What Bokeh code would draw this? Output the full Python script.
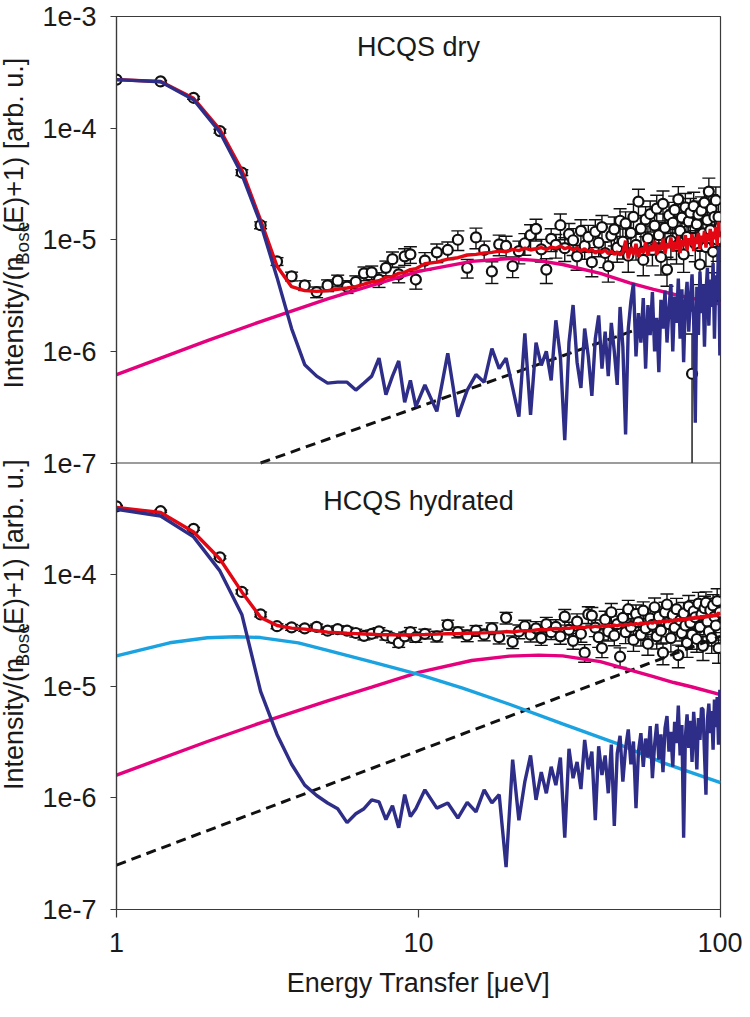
import numpy as np
from bokeh.plotting import figure
from bokeh.layouts import row
from bokeh.models import Range1d, FixedTicker, Span, LogScale
from bokeh.embed import file_html
from bokeh.resources import INLINE
from bokeh.core.properties import value

# ---------------- data (intensities in units of 1e-6) ----------------
UNIT = 1e-6

E_low = [1.0, 1.4, 1.8, 2.2, 2.6, 3.0, 3.4, 3.8, 4.2, 4.6, 5.0, 5.4, 5.8, 6.2, 6.6, 7.0,
         7.4, 7.8, 8.2, 8.6, 9.0, 9.4, 9.8]
E_high = [10.5, 11.5, 12.5, 13.5, 14.5, 15.5, 16.5, 17.5, 18.5, 19.5,
          20.5, 21.5, 22.5, 23.5, 24.5, 25.5, 26.5, 27.5, 28.5, 29.5,
          30.5, 31.5, 32.5, 33.5, 34.5, 35.5, 36.5, 37.5, 38.5, 39.5,
          40.5, 41.5, 42.5, 43.5, 44.5, 45.5, 46.5, 47.5, 48.5, 49.5,
          50.5, 51.5, 52.5, 53.5, 54.5, 55.5, 56.5, 57.5, 58.5, 59.5,
          60.5, 61.5, 62.5, 63.5, 64.5, 65.5, 66.5, 67.5, 68.5, 69.5,
          70.5, 71.5, 72.5, 73.5, 74.5, 75.5, 76.5, 77.5, 78.5, 79.5,
          80.5, 81.5, 82.5, 83.5, 84.5, 85.5, 86.5, 87.5, 88.5, 89.5,
          90.5, 91.5, 92.5, 93.5, 94.5, 95.5, 96.5, 97.5, 98.5, 99.5]

# ---- HCQS dry (top panel)
dry_data = [272, 262, 187, 94, 40, 13.5, 6.4, 4.7, 3.9, 3.4, 3.9, 4.3, 3.8, 4.2, 5.0, 5.1,
            4.4, 5.6, 6.7, 4.9, 7.1, 7.4, 4.4,
            6.5, 7.7, 8.1, 10.0, 5.6, 10.5, 8.1, 5.2, 9.1, 8.8,
            5.8, 7.9, 9.3, 11.0, 12.5, 8.2, 5.4, 10.2, 9.0, 13.5,
            8.4, 11.2, 9.9, 7.1, 12.0, 8.8, 10.6, 6.3, 11.8, 9.4,
            13.0, 7.6, 5.8, 10.9, 12.4, 8.5, 14.8, 9.6, 14.0, 7.2,
            11.5, 16.0, 9.0, 22.0, 12.6, 6.6, 15.2, 10.3, 17.0, 8.1,
            13.4, 19.0, 11.0, 7.0, 21.0, 12.8, 5.4, 16.5, 9.8, 14.2,
            18.5, 8.8, 23.0, 12.0, 15.8, 7.4, 19.5, 10.6, 14.6, 17.5,
            0.63, 20.0, 9.2, 13.8, 16.8, 6.0, 18.2, 11.4, 21.5, 8.6,
            15.0, 27.0, 12.2, 19.0, 7.8, 16.0, 22.5, 10.0, 16.0, 13.0]
dry_err_pct = [2, 2, 3, 4, 6, 7, 8, 9, 10, 11, 12, 12, 13, 13, 14, 14, 15, 15, 16, 16, 17, 17, 18,
               18, 19, 18, 20, 19, 21, 20, 22, 21, 22,
               21, 23, 22, 24, 22, 23, 25, 23, 24, 26,
               24, 25, 27, 25, 26, 24, 27, 26, 28, 25,
               27, 26, 28, 27, 29, 26, 28, 30, 27, 29,
               28, 30, 27, 29, 31, 28, 30, 29, 31, 28,
               30, 32, 29, 31, 30, 33, 29, 31, 32, 30,
               33, 31, 30, 32, 34, 31, 33, 32, 30, 34,
               127, 33, 31, 35, 32, 34, 33, 31, 35, 33,
               34, 32, 36, 33, 35, 34, 32, 36, 34, 33]
dry_fit = [272, 262, 185, 97, 42, 15, 5.8, 3.8, 3.5, 3.45, 3.5, 3.6, 3.7, 3.8, 4.0, 4.2,
           4.3, 4.6, 4.7, 5.0, 5.1, 5.4, 5.5,
           6.1, 6.3, 6.7, 6.9, 7.3, 7.4, 7.6, 7.7, 7.9, 7.8,
           8.2, 8.0, 8.4, 8.1, 8.3, 8.5, 8.2, 8.6, 8.4, 8.8,
           8.3, 8.6, 8.1, 8.5, 7.9, 8.3, 7.8, 8.2, 7.6, 8.0,
           7.7, 8.1, 7.5, 7.9, 7.4, 7.8, 7.3, 7.7, 9.8, 6.8,
           8.6, 7.4, 9.2, 7.0, 8.4, 7.6, 9.5, 7.2, 8.9, 7.9,
           9.8, 7.3, 9.0, 8.1, 10.2, 7.5, 9.3, 8.4, 10.5, 7.8,
           9.6, 8.2, 10.8, 7.6, 9.9, 8.8, 11.0, 8.0, 10.3, 9.0,
           11.2, 7.9, 10.6, 9.2, 11.5, 8.3, 10.9, 9.5, 12.0, 8.5,
           11.3, 9.8, 12.5, 8.7, 11.8, 10.1, 13.0, 9.0, 14.5, 10.5]
dry_res = [272, 260, 180, 92, 38.6, 14, 4.6, 1.6, 0.76, 0.6, 0.52, 0.53, 0.53, 0.45, 0.52, 0.6,
           0.87, 0.41, 0.6, 0.82, 0.35, 0.55, 0.32,
           0.5, 0.29, 0.96, 0.26, 0.45, 0.62, 0.53, 1.06, 0.7, 0.87,
           0.47, 0.26, 1.45, 0.27, 1.2, 0.75, 1.0, 0.55, 1.9, 0.9,
           0.16, 1.2, 2.6, 0.8, 0.47, 1.6, 0.9, 0.4, 1.3, 2.1,
           0.7, 1.5, 0.6, 1.8, 1.0, 0.5, 2.5, 1.1, 0.18, 1.6,
           2.8, 4.1, 0.9, 2.2, 1.2, 3.0, 0.7, 2.6, 1.4, 3.4,
           1.0, 2.0, 0.65, 2.9, 1.6, 3.5, 1.2, 2.4, 4.0, 1.0,
           3.1, 1.8, 4.5, 1.3, 3.6, 0.8, 2.7, 4.2, 1.5, 3.0,
           4.9, 1.9, 0.23, 3.8, 1.4, 5.2, 2.2, 4.0, 1.1, 3.3,
           5.6, 1.7, 4.4, 2.5, 6.2, 1.3, 4.8, 2.9, 8.7, 0.92]
dry_qens_E = [1, 2, 3, 5, 7, 10, 15, 20, 25, 30, 40, 50, 60, 70, 80, 90, 100]
dry_qens = [0.62, 1.25, 1.85, 2.95, 3.9, 5.2, 6.4, 6.8, 6.5, 6.0, 5.0, 4.1, 3.6, 3.25, 3.0, 2.8, 2.65]
dry_bg_E = [3.0, 100]
dry_bg = [0.1, 2.9]

# ---- HCQS hydrated (bottom panel)
hyd_data = [409, 370, 257, 143, 70, 44, 34.5, 33.7, 33.0, 34.0, 31.5, 32.5, 31.5, 30.0, 28.3, 29.5,
            31.0, 28.5, 27.0, 24.5, 28.0, 30.5, 27.5,
            29.5, 28.0, 35.5, 30.5, 28.5, 31.5, 29.0, 33.0, 27.5, 41.0,
            25.0, 31.0, 34.5, 29.0, 33.0, 27.0, 36.0, 30.5, 34.0, 28.0,
            42.0, 32.0, 25.5, 38.0, 29.5, 20.0, 44.0, 43.0, 33.5, 27.5,
            22.0, 39.5, 31.0, 46.0, 28.5, 36.0, 18.4, 41.0, 30.5, 49.0,
            34.0, 26.0, 44.5, 37.5, 29.0, 47.5, 33.0, 24.0, 40.5, 35.5,
            51.0, 28.0, 42.0, 31.5, 20.0, 46.0, 54.0, 36.0, 27.0, 43.5,
            33.5, 49.0, 19.0, 39.0, 30.0, 45.0, 35.0, 24.5, 52.0, 37.0,
            29.0, 47.0, 41.5, 26.5, 55.0, 34.0, 44.0, 23.0, 50.0, 56.0,
            38.0, 31.0, 48.0, 27.0, 53.0, 42.0, 35.0, 58.0, 22.0, 46.0]
hyd_err_pct = [2, 2, 3, 3, 4, 5, 5, 6, 6, 6, 7, 7, 7, 8, 8, 8, 8, 9, 9, 9, 9, 10, 10,
               10, 11, 10, 11, 12, 11, 12, 12, 13, 12,
               13, 14, 13, 14, 15, 14, 15, 14, 16, 15,
               16, 17, 16, 17, 16, 18, 17, 18, 17, 19,
               18, 19, 18, 20, 19, 18, 20, 19, 21, 20,
               19, 21, 20, 22, 21, 20, 22, 21, 23, 22,
               21, 23, 22, 24, 22, 23, 24, 23, 25, 22,
               24, 25, 23, 26, 24, 25, 24, 26, 25, 23,
               26, 25, 27, 24, 26, 27, 25, 26, 28, 25,
               27, 26, 28, 27, 25, 28, 26, 29, 27, 28]
hyd_fit = [400, 360, 241, 138, 70, 41.4, 35, 33.2, 32.5, 31.5, 30.5, 30.2, 29.8, 29.6, 29.4, 29.2,
           29.0, 28.9, 28.9, 28.8, 28.9, 28.8, 29.0,
           29.1, 29.3, 29.6, 29.5, 29.8, 30.0, 30.1, 30.4, 30.2, 30.9,
           30.6, 31.2, 31.5, 31.3, 31.9, 32.2, 32.0, 32.6, 32.9, 32.6,
           33.2, 33.0, 33.6, 33.3, 33.9, 33.5, 34.2, 33.8, 34.5, 34.0,
           34.8, 34.3, 35.0, 34.6, 35.3, 34.8, 35.6, 35.0, 35.9, 35.3,
           36.2, 35.5, 36.5, 35.8, 36.9, 36.0, 37.2, 36.3, 37.5, 36.6,
           37.9, 36.9, 38.2, 37.2, 38.6, 37.5, 39.0, 37.8, 39.3, 38.1,
           39.7, 38.4, 40.0, 38.7, 40.4, 39.0, 40.8, 39.3, 41.1, 39.6,
           41.5, 39.9, 41.9, 40.2, 42.2, 40.5, 42.6, 40.8, 43.0, 41.1,
           43.4, 41.4, 43.8, 41.7, 44.2, 42.0, 44.8, 42.5, 46.0, 43.0]
hyd_res = [385, 335, 218, 108, 44, 9.0, 3.7, 2.0, 1.3, 1.05, 0.9, 0.8, 0.6, 0.72, 0.8, 0.96,
           0.92, 0.64, 0.85, 0.54, 1.07, 0.68, 0.8,
           1.18, 0.81, 0.9, 0.66, 0.91, 0.75, 1.18, 0.9, 1.07, 0.24,
           2.2, 0.63, 1.4, 2.4, 0.96, 1.7, 1.1, 1.9, 1.3, 2.3,
           0.44, 2.75, 1.5, 2.1, 1.2, 3.3, 1.8, 2.6, 0.63, 2.9,
           1.6, 2.4, 1.1, 3.0, 0.56, 2.5, 3.6, 1.4, 2.8, 4.1,
           2.0, 3.2, 0.81, 2.6, 3.8, 1.9, 3.4, 2.3, 4.4, 1.5,
           3.0, 4.6, 2.2, 3.7, 1.7, 4.2, 5.4, 2.6, 3.9, 1.9,
           4.8, 3.1, 6.7, 2.4, 4.5, 0.44, 3.5, 5.6, 2.8, 4.9,
           2.1, 5.9, 3.6, 1.8, 5.2, 3.3, 6.4, 6.2, 2.5, 1.07,
           5.0, 7.0, 3.8, 6.0, 2.7, 7.6, 4.3, 8.0, 3.0, 9.3]
hyd_qens_E = [1, 2, 3, 5, 7, 10, 15, 20, 25, 30, 40, 50, 60, 70, 80, 100]
hyd_qens = [1.6, 3.2, 4.7, 7.4, 9.8, 13.3, 17.0, 18.6, 19.0, 18.7, 16.6, 14.0, 12.2, 10.8, 9.9, 8.4]
hyd_fast_E = [1, 1.5, 2, 2.5, 3, 4, 5, 7, 10, 14, 20, 30, 45, 65, 100]
hyd_fast = [18.7, 24.5, 27.2, 27.8, 27.3, 24.5, 21.0, 16.5, 12.8, 9.6, 6.9, 4.6, 3.1, 2.05, 1.37]
hyd_bg_E = [1, 100]
hyd_bg = [0.25, 28]

y_ticks_top = [1e-3, 1e-4, 1e-5, 1e-6, 1e-7]
y_ticks_bot = [1e-4, 1e-5, 1e-6, 1e-7]
y_tick_labels = ["1e-3", "1e-4", "1e-5", "1e-6", "1e-7"]
x_ticks = [1, 10, 100]
x_tick_labels = ["1", "10", "100"]
y_title_parts = ["Intensity/(n", "Bose", "(E)+1) [arb. u.]"]

# ---------------- styling ----------------
FONT = "Liberation Sans"
TXT = "#1a1a1a"
AX = "#3a3a3a"
RED = "#e30613"
NAVY = "#2e2d88"
PINK = "#e5007d"
CYAN = "#1aa3e0"
BLK = "#111111"
LW = 3.4

E = np.array(E_low + E_high)

TW = 38       # width of the strip that holds the vertical titles
H = 1001

p = figure(width=742 - TW, height=H, x_axis_type="log", y_axis_type="log",
           x_range=Range1d(1, 100), y_range=Range1d(1e-11, 1e-3),
           output_backend="svg", toolbar_location=None,
           min_border_left=116 - TW, min_border_right=22, min_border_top=16, min_border_bottom=92)
p.extra_y_ranges = {"bot": Range1d(1e-7, 10.0)}
p.extra_y_scales = {"bot": LogScale()}
p.xgrid.visible = False
p.ygrid.visible = False
p.outline_line_color = AX
p.outline_line_width = 1.2
p.background_fill_color = "white"
p.border_fill_color = "white"

# one y axis carries the labels of both panels
# (the lower panel's decades sit 4 decades below on the main range)
ticks = list(y_ticks_top) + [t * 1e-4 for t in y_ticks_bot]
overrides = {}
for t, lab in zip(y_ticks_top, y_tick_labels):
    overrides[t] = lab
for t, lab in zip(y_ticks_bot, y_tick_labels[1:]):
    overrides[t * 1e-4] = lab
p.yaxis.ticker = FixedTicker(ticks=ticks)
p.yaxis.major_label_overrides = overrides
p.yaxis.major_tick_out = 6
p.yaxis.major_tick_in = 0
p.yaxis.minor_tick_line_color = None
p.yaxis.major_label_standoff = 14

p.xaxis.ticker = FixedTicker(ticks=x_ticks)
p.xaxis.major_label_overrides = {t: l for t, l in zip(x_ticks, x_tick_labels)}
p.xaxis.major_tick_out = 8
p.xaxis.major_tick_in = 0
p.xaxis.minor_tick_line_color = None
p.xaxis.major_label_standoff = 15
p.xaxis.axis_label = "Energy Transfer [μeV]"
p.xaxis.axis_label_standoff = 13

for ax in (p.xaxis, p.yaxis):
    ax.axis_line_color = AX
    ax.axis_line_width = 1.2
    ax.major_tick_line_color = AX
    ax.major_tick_line_width = 1.2
    ax.major_label_text_font = FONT
    ax.major_label_text_font_size = "27px"
    ax.major_label_text_color = TXT
    ax.axis_label_text_font = FONT
    ax.axis_label_text_font_size = "27px"
    ax.axis_label_text_font_style = "normal"
    ax.axis_label_text_color = TXT

# separator between the two panels (1e-7 of the upper panel)
p.add_layout(Span(location=1e-7, dimension="width", line_color=AX, line_width=1.2))


def draw_panel(data, err_pct, fit, res, qens_E, qens, bg_E, bg, rname, floor, fast_E=None, fast=None):
    v = np.array(data) * UNIT
    e = v * np.array(err_pct) / 100.0
    up = v + e
    lo = np.maximum(v - e, floor)
    kw = {} if rname is None else {"y_range_name": rname}
    p.segment(x0=E, y0=lo, x1=E, y1=up, line_color=BLK, line_width=1.4, **kw)
    p.scatter(E, up, marker="dash", size=13, line_color=BLK, line_width=1.4, **kw)
    keep = lo > floor
    p.scatter(E[keep], lo[keep], marker="dash", size=13, line_color=BLK, line_width=1.4, **kw)
    p.scatter(E, v, marker="circle", size=10, fill_color="white", line_color=BLK, line_width=2.2, **kw)
    p.line(bg_E, np.array(bg) * UNIT, line_color=BLK, line_width=3, line_dash="10 6", **kw)
    p.line(qens_E, np.array(qens) * UNIT, line_color=PINK, line_width=LW, **kw)
    if fast is not None:
        p.line(fast_E, np.array(fast) * UNIT, line_color=CYAN, line_width=LW, **kw)
    p.line(E, np.array(fit) * UNIT, line_color=RED, line_width=LW, **kw)
    p.line(E, np.array(res) * UNIT, line_color=NAVY, line_width=LW, **kw)


draw_panel(dry_data, dry_err_pct, dry_fit, dry_res, dry_qens_E, dry_qens, dry_bg_E, dry_bg,
           None, 1e-7)
draw_panel(hyd_data, hyd_err_pct, hyd_fit, hyd_res, hyd_qens_E, hyd_qens, hyd_bg_E, hyd_bg,
           "bot", 1e-7, hyd_fast_E, hyd_fast)

# panel titles
p.text(x=[10], y=[5.38e-4], text=["HCQS dry"], text_align="center", text_baseline="alphabetic",
       text_font=value(FONT), text_font_size=value("27px"), text_color=TXT)
p.text(x=[10], y=[4.61e-4], text=["HCQS hydrated"], text_align="center", text_baseline="alphabetic",
       text_font=value(FONT), text_font_size=value("27px"), text_color=TXT, y_range_name="bot")

# ---------------- strip with the rotated y titles (pixel coordinates, y down) ----------------
t = figure(width=TW, height=H, x_range=Range1d(0, TW), y_range=Range1d(H, 0),
           output_backend="svg", toolbar_location=None,
           min_border_left=0, min_border_right=0, min_border_top=0, min_border_bottom=0)
t.axis.visible = False
t.grid.visible = False
t.outline_line_color = None
t.background_fill_color = "white"
t.border_fill_color = "white"

XM, XS = 13.0, 21.5               # centre lines of main text / subscript
W1, W2, W3 = 132.1, 43.3, 174.8   # advance widths of the three parts
GAP = 1.0
for yc in (233.0, 683.0):         # centres of upper / lower panel title
    y0 = yc + (W1 + W2 + W3 + 2 * GAP) / 2.0    # bottom end (text reads upwards)
    ys = [y0 - W1 / 2.0,
          y0 - W1 - GAP - W2 / 2.0,
          y0 - W1 - GAP - W2 - GAP - W3 / 2.0]
    xs = [XM, XS, XM]
    sizes = ["27px", "19px", "27px"]
    for part, xx, yy, sz in zip(y_title_parts, xs, ys, sizes):
        t.text(x=[xx], y=[yy], text=[part], angle=90, angle_units="deg",
               text_align="center", text_baseline="middle",
               text_font=value(FONT), text_font_size=value(sz), text_color=TXT)

layout = row(t, p, spacing=0)
open("out.html", "w").write(file_html(layout, INLINE))
